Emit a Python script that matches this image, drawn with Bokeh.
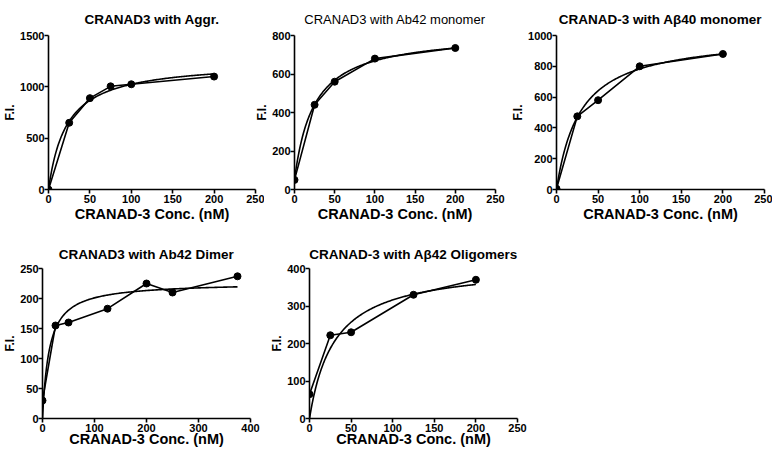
import numpy as np
from bokeh.plotting import figure
from bokeh.layouts import column, row
from bokeh.models import Range1d, FixedTicker
from bokeh.embed import file_html
from bokeh.resources import INLINE

# ---- data ----
title_aggr = "CRANAD3 with Aggr."
x_aggr = [0, 25, 50, 75, 100, 200]
y_aggr = [0, 650, 890, 1005, 1025, 1100]
fit_aggr = {"bmax": 1250, "kd": 22, "b0": 0}

title_m42 = "CRANAD3 with Ab42 monomer"
x_m42 = [0, 25, 50, 100, 200]
y_m42 = [50, 440, 560, 680, 735]
fit_m42 = {"bmax": 767, "kd": 24, "b0": 50}

title_m40 = "CRANAD-3 with A\u03b240 monomer"
x_m40 = [0, 25, 50, 100, 200]
y_m40 = [5, 475, 580, 800, 880]
fit_m40 = {"bmax": 1006, "kd": 28.5, "b0": 0}

title_dim = "CRANAD3 with Ab42 Dimer"
x_dim = [0, 25, 50, 125, 200, 250, 375]
y_dim = [30, 155, 160, 183, 225, 210, 237]
fit_dim = {"bmax": 227, "kd": 12.9, "b0": 0}

title_oli = "CRANAD-3 with A\u03b242 Oligomers"
x_oli = [0, 25, 50, 125, 200]
y_oli = [65, 222, 230, 330, 370]
fit_oli = {"bmax": 411, "kd": 30, "b0": 0}

x_label = "CRANAD-3 Conc. (nM)"
y_label = "F.I."

FONT = "Liberation Sans"


def panel(title, xs, ys, fit, xmax, xstep, ymax, ystep, width, height,
          left, right, top, bottom, tstandoff, xl_standoff, title_bold=True):
    p = figure(width=width, height=height, output_backend="svg",
               toolbar_location=None, x_range=Range1d(0, xmax),
               y_range=Range1d(0, ymax), min_border_left=left,
               min_border_right=right, min_border_top=top,
               min_border_bottom=bottom)
    p.outline_line_color = None
    p.border_fill_color = None
    p.background_fill_color = None
    p.xgrid.visible = False
    p.ygrid.visible = False
    p.title.text = title
    p.title.align = "center"
    p.title.text_font = FONT
    p.title.text_color = "black"
    if title_bold:
        p.title.text_font_size = "13.5px"
        p.title.text_font_style = "bold"
    else:
        p.title.text_font_size = "13px"
        p.title.text_font_style = "normal"
    p.title.standoff = tstandoff
    for ax, step, mx in ((p.xaxis, xstep, xmax), (p.yaxis, ystep, ymax)):
        ax.ticker = FixedTicker(ticks=list(range(0, mx + 1, step)))
        ax.minor_tick_line_color = None
        ax.axis_line_width = 1.6
        ax.axis_line_color = "black"
        ax.major_tick_line_width = 1.6
        ax.major_tick_line_color = "black"
        ax.major_tick_out = 4
        ax.major_tick_in = 0
        ax.major_label_text_font = FONT
        ax.major_label_text_font_size = "11px"
        ax.major_label_text_font_style = "bold"
        ax.major_label_text_color = "black"
        ax.major_label_standoff = 1
        ax.axis_label_text_font = FONT
        ax.axis_label_text_font_style = "bold"
        ax.axis_label_text_color = "black"
    p.xaxis.axis_label = x_label
    p.xaxis.axis_label_text_font_size = "14.5px"
    p.xaxis.axis_label_standoff = xl_standoff
    p.yaxis.axis_label = y_label
    p.yaxis.axis_label_text_font_size = "12px"
    p.yaxis.axis_label_standoff = 0
    p.yaxis.major_label_standoff = 0
    # fitted one-site binding curve
    cx = np.linspace(0, max(xs), 200)
    cy = fit["b0"] + fit["bmax"] * cx / (fit["kd"] + cx)
    p.line(cx, cy, line_color="black", line_width=1.6)
    p.line(xs, ys, line_color="black", line_width=1.6)
    p.scatter(xs, ys, size=7, color="black")
    return p


p1 = panel(title_aggr, x_aggr, y_aggr, fit_aggr, 250, 50, 1500, 500,
           264, 225, 45, 9, 35, 36, 17, 0)
p2 = panel(title_m42, x_m42, y_m42, fit_m42, 250, 50, 800, 200,
           256, 225, 42, 13, 35, 36, 17, 0, title_bold=False)
p2.margin = (0, 0, 0, -12)
p3 = panel(title_m40, x_m40, y_m40, fit_m40, 250, 50, 1000, 200,
           264, 225, 48, 8, 35, 36, 17, 0)
p4 = panel(title_dim, x_dim, y_dim, fit_dim, 400, 100, 250, 50,
           260, 228, 42, 10, 43, 35, 14, -4)
p5 = panel(title_oli, x_oli, y_oli, fit_oli, 250, 50, 400, 100,
           269, 228, 49, 12, 43, 35, 14, -4)

layout = column(row(p1, p2, p3), row(p4, p5))
open("out.html", "w").write(file_html(layout, INLINE))
